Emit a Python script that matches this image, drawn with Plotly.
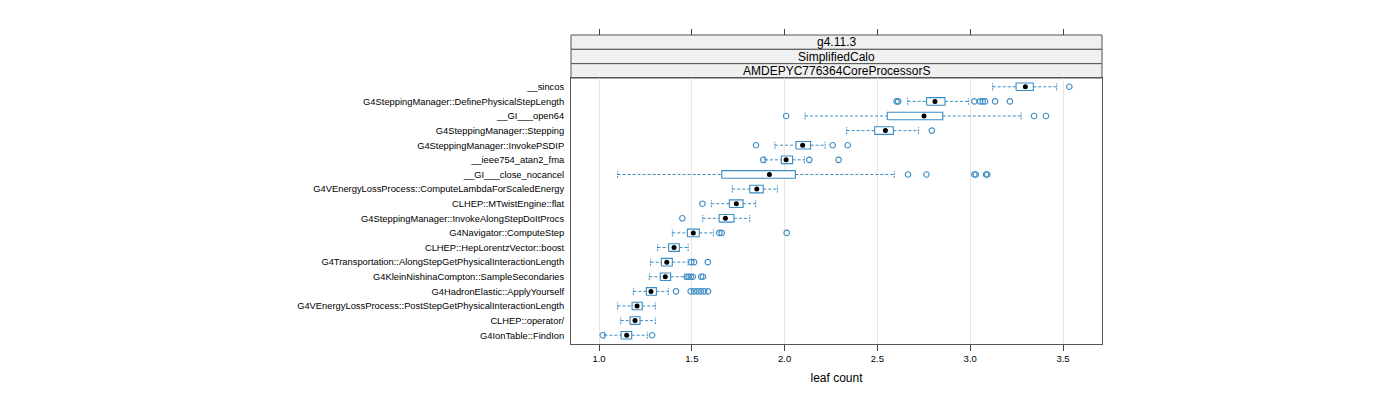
import plotly.graph_objects as go

# ---- data (bottom row first) ----
categories = [
    "G4IonTable::FindIon",
    "CLHEP::operator/",
    "G4VEnergyLossProcess::PostStepGetPhysicalInteractionLength",
    "G4HadronElastic::ApplyYourself",
    "G4KleinNishinaCompton::SampleSecondaries",
    "G4Transportation::AlongStepGetPhysicalInteractionLength",
    "CLHEP::HepLorentzVector::boost",
    "G4Navigator::ComputeStep",
    "G4SteppingManager::InvokeAlongStepDoItProcs",
    "CLHEP::MTwistEngine::flat",
    "G4VEnergyLossProcess::ComputeLambdaForScaledEnergy",
    "__GI___close_nocancel",
    "__ieee754_atan2_fma",
    "G4SteppingManager::InvokePSDIP",
    "G4SteppingManager::Stepping",
    "__GI___open64",
    "G4SteppingManager::DefinePhysicalStepLength",
    "__sincos",
]
lower_whisker = [1.029, 1.117, 1.100, 1.185, 1.271, 1.278, 1.316, 1.395, 1.559, 1.605,
                 1.718, 1.100, 1.894, 1.948, 2.334, 2.110, 2.663, 3.121]
q1 = [1.119, 1.167, 1.178, 1.255, 1.330, 1.336, 1.375, 1.476, 1.647, 1.702,
      1.812, 1.661, 1.982, 2.061, 2.485, 2.553, 2.765, 3.247]
median = [1.149, 1.194, 1.205, 1.280, 1.357, 1.365, 1.404, 1.508, 1.681, 1.740,
          1.850, 1.918, 2.008, 2.097, 2.543, 2.751, 2.810, 3.297]
q3 = [1.176, 1.221, 1.233, 1.309, 1.386, 1.395, 1.433, 1.540, 1.727, 1.776,
      1.885, 2.058, 2.043, 2.140, 2.586, 2.852, 2.864, 3.340]
upper_whisker = [1.260, 1.303, 1.303, 1.373, 1.463, 1.480, 1.480, 1.616, 1.812, 1.844,
                 1.961, 2.591, 2.106, 2.218, 2.721, 3.274, 2.990, 3.466]
outliers = [
    [1.020, 1.286],
    [],
    [],
    [1.415, 1.494, 1.512, 1.530, 1.548, 1.566, 1.587],
    [1.472, 1.483, 1.494, 1.505, 1.550, 1.560],
    [1.497, 1.512, 1.586],
    [],
    [1.648, 1.661, 2.011],
    [1.449],
    [1.557],
    [],
    [2.665, 2.764, 3.022, 3.030, 3.085, 3.092],
    [1.885, 2.133, 2.291],
    [1.846, 2.259, 2.340],
    [2.793],
    [2.008, 3.344, 3.408],
    [2.603, 2.612, 3.022, 3.053, 3.067, 3.080, 3.134, 3.214],
    [3.534],
]
x_ticks = [1.0, 1.5, 2.0, 2.5, 3.0, 3.5]
strip_labels = ["g4.11.3", "SimplifiedCalo", "AMDEPYC776364CoreProcessorS"]
x_title = "leaf count"

# ---- style ----
BLUE = "#3A8CC4"
FRAME = "#555555"
FONT = "Liberation Sans, Arial, sans-serif"
BOX_H = 0.26
CAP_H = 0.24
n = len(categories)
ypos = list(range(1, n + 1))

fig = go.Figure()

# whiskers (dashed)
wx, wy = [], []
for i, y in enumerate(ypos):
    wx += [lower_whisker[i], q1[i], None, q3[i], upper_whisker[i], None]
    wy += [y, y, None, y, y, None]
fig.add_trace(go.Scatter(x=wx, y=wy, mode="lines", hoverinfo="skip",
                         line=dict(color=BLUE, width=1, dash="3px,2px"), showlegend=False))
# whisker caps
cx, cy = [], []
for i, y in enumerate(ypos):
    for v in (lower_whisker[i], upper_whisker[i]):
        cx += [v, v, None]
        cy += [y - CAP_H, y + CAP_H, None]
fig.add_trace(go.Scatter(x=cx, y=cy, mode="lines", hoverinfo="skip",
                         line=dict(color=BLUE, width=1, dash="2px,1px"), showlegend=False))
# boxes
bx, by = [], []
for i, y in enumerate(ypos):
    bx += [q1[i], q3[i], q3[i], q1[i], q1[i], None]
    by += [y - BOX_H, y - BOX_H, y + BOX_H, y + BOX_H, y - BOX_H, None]
fig.add_trace(go.Scatter(x=bx, y=by, mode="lines", fill="toself", fillcolor="white",
                         hoverinfo="skip", line=dict(color=BLUE, width=1.1), showlegend=False))
# medians
fig.add_trace(go.Scatter(x=median, y=ypos, mode="markers", hoverinfo="skip",
                         marker=dict(color="black", size=5), showlegend=False))
# outliers
ox, oy = [], []
for i, y in enumerate(ypos):
    for v in outliers[i]:
        ox.append(v)
        oy.append(y)
fig.add_trace(go.Scatter(x=ox, y=oy, mode="markers", hoverinfo="skip",
                         marker=dict(symbol="circle-open", color=BLUE, size=5.5,
                                     line=dict(width=1.1, color=BLUE)), showlegend=False))
# invisible trace on top axis to get top ticks
fig.add_trace(go.Scatter(x=[x_ticks[0]], y=[1], xaxis="x2", mode="markers",
                         marker=dict(opacity=0), hoverinfo="skip", showlegend=False))

XR = [0.849, 3.710]
# page body has an 8px offset; margins compensate for it
ML, MR, MT, MB = 563, 306, 27, 64
H = 400
plot_h = H - MT - MB
panel_h = 344 - 78
dom_top = panel_h / plot_h
strip_h = (1 - dom_top) / 3

fig.update_layout(
    width=1400, height=400,
    margin=dict(l=ML, r=MR, t=MT, b=MB, pad=0),
    paper_bgcolor="white", plot_bgcolor="white",
    font=dict(family=FONT, color="black"),
    xaxis=dict(range=XR, tickvals=x_ticks, ticktext=[f"{t:.1f}" for t in x_ticks],
               ticks="outside", ticklen=6, tickcolor="#444", tickwidth=1,
               showgrid=True, gridcolor="#E6E6E6", gridwidth=1,
               showline=True, linecolor=FRAME, linewidth=1, mirror=True,
               zeroline=False, tickfont=dict(size=9.5, family=FONT),
               title=dict(text=x_title, font=dict(size=12, family=FONT), standoff=10)),
    xaxis2=dict(range=XR, tickvals=x_ticks, overlaying="x", side="top", anchor="free",
                position=1, ticks="outside", ticklen=6, tickcolor="#444",
                showticklabels=False, showgrid=False, zeroline=False, showline=False),
    yaxis=dict(range=[0.4, n + 0.6], domain=[0, dom_top], tickvals=ypos, ticktext=categories,
               ticks="", showgrid=False, zeroline=False,
               showline=True, linecolor=FRAME, linewidth=1, mirror=True,
               tickfont=dict(size=9.35, family=FONT), ticklabelstandoff=4),
)

# strips (top label highest)
shapes = []
annotations = []
for k, lab in enumerate(strip_labels):
    y1 = 1 - k * strip_h
    y0 = y1 - strip_h
    shapes.append(dict(type="rect", xref="paper", yref="paper", x0=0, x1=1, y0=y0, y1=y1,
                       fillcolor="#F0F0F0", line=dict(color=FRAME, width=1), layer="below"))
    annotations.append(dict(text=lab, xref="paper", yref="paper", x=0.5, y=(y0 + y1) / 2,
                            showarrow=False, font=dict(size=12, family=FONT, color="black"),
                            xanchor="center", yanchor="middle"))
fig.update_layout(shapes=shapes, annotations=annotations)

fig.write_html("out.html")
